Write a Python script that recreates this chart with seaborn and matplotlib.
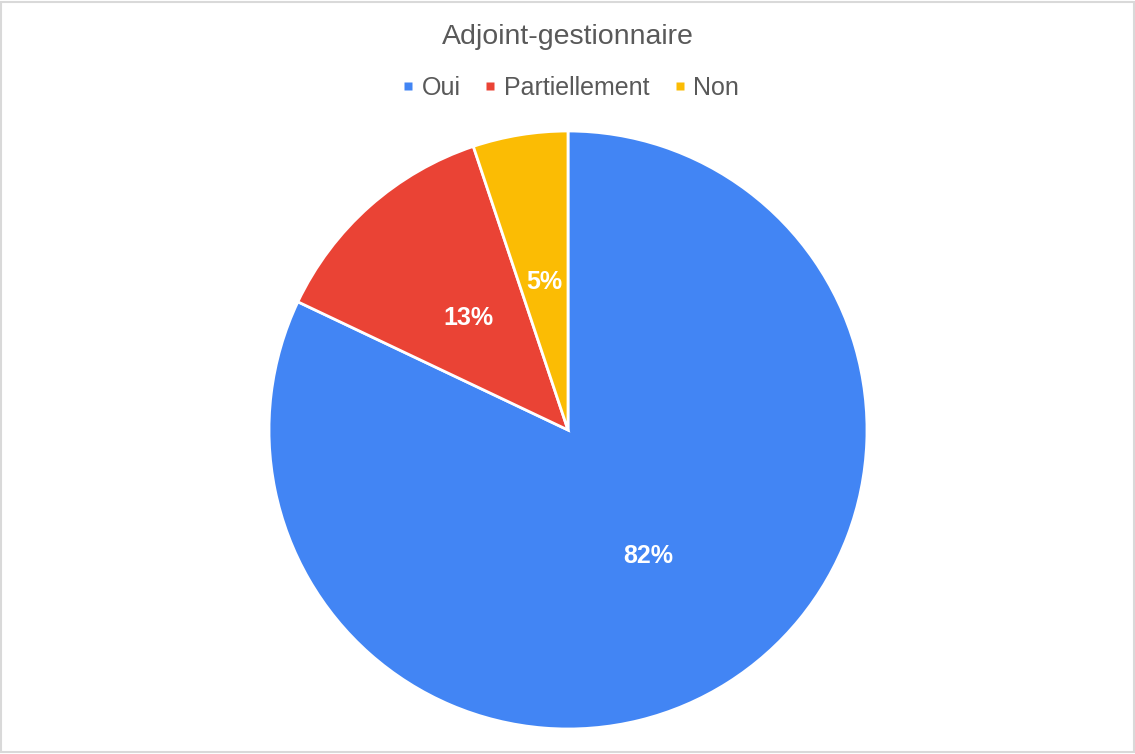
import matplotlib
matplotlib.use("Agg")
import matplotlib.pyplot as plt
from matplotlib.patches import Rectangle
from matplotlib.lines import Line2D
import seaborn as sns

# données (effectifs)
categories = ["Oui", "Partiellement", "Non"]
counts = [32, 5, 2]
couleurs = ["#4285F4", "#EA4335", "#FBBC04"]
titre = "Adjoint-gestionnaire"

sns.set_theme(style="white")
plt.rcParams['font.family'] = ['Liberation Sans', 'DejaVu Sans']

palette = sns.color_palette(couleurs)

fig = plt.figure(figsize=(11.35, 7.54), dpi=100)
# axe carré : centre (568, 430), rayon 299 px
ax = fig.add_axes([269 / 1135, 25 / 754, 598 / 1135, 598 / 754])

wedges, texts, autotexts = ax.pie(
    counts, colors=palette, startangle=90, counterclock=False,
    autopct=lambda p: f"{p:.0f}%", pctdistance=0.5,
    wedgeprops=dict(edgecolor="white", linewidth=2),
    textprops=dict(color="white", fontsize=18, fontweight="bold"),
)
ax.set_xlim(-1, 1)
ax.set_ylim(-1, 1)
ax.set_aspect("equal")
ax.axis("off")

fig.text(568 / 1135, 1 - 37 / 754, titre, ha="center", va="center",
         fontsize=20.5, color="#595959")

# petits carrés de légende
handles = [Line2D([], [], marker="s", linestyle="none", markersize=6,
                  markerfacecolor=c, markeredgecolor="none") for c in palette]
fig.legend(handles, categories, loc="center", bbox_to_anchor=(571 / 1135, 1 - 88 / 754),
           ncol=3, frameon=False, fontsize=18, labelcolor="#595959",
           handlelength=0.4, handletextpad=0.35, columnspacing=1.0)

# bordure grise du graphique
fig.patches.append(Rectangle((0.001, 0.002), 0.998, 0.996, transform=fig.transFigure,
                             fill=False, edgecolor="#d9d9d9", linewidth=1.5))

fig.savefig("out.png", dpi=100)
